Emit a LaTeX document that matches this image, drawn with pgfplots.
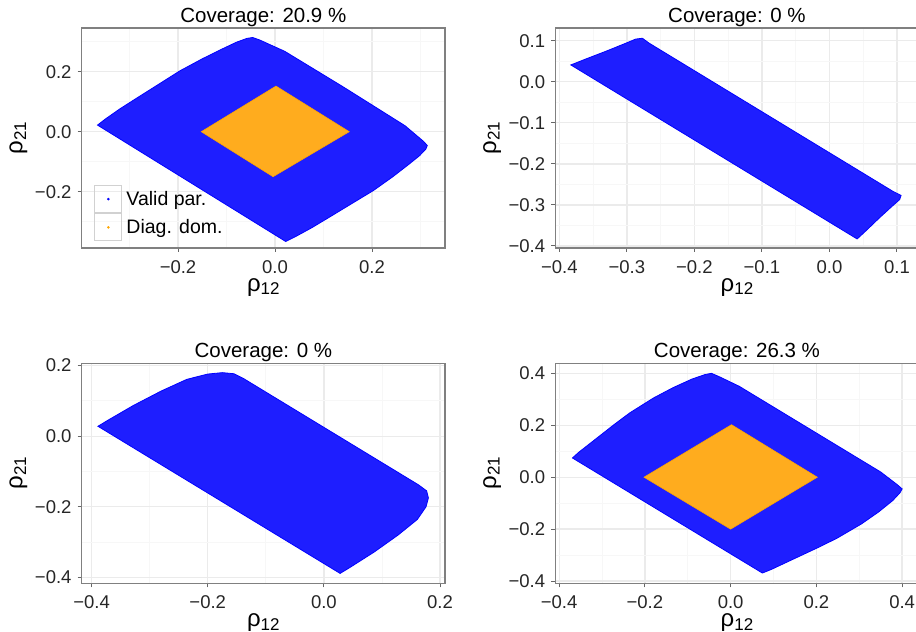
\documentclass[border=0pt]{standalone}
\usepackage{fontspec}
\setmainfont{Liberation Sans}
\usepackage{pgfplots}
\pgfplotsset{compat=1.18}

\definecolor{vblue}{RGB}{0,0,255}
\definecolor{vfill}{RGB}{30,30,255}
\definecolor{dorange}{RGB}{255,165,0}
\definecolor{dfill}{RGB}{255,172,30}
\definecolor{framegray}{gray}{0.5}

\newcommand{\rlab}[1]{{\fontsize{24}{24}\selectfont ρ\raisebox{-0.28ex}{\fontsize{17}{17}\selectfont #1}}}

\pgfplotsset{
  panel/.style={
    scale only axis, width=363.3pt, height=220pt,
    axis line style={framegray, line width=1.3pt},
    grid=both,
    major grid style={black!8, line width=1.3pt},
    minor grid style={black!3, line width=0.8pt},
    minor tick length=0pt, major tick length=4pt,
    tick align=outside, tick pos=left,
    tick style={black!60, line width=1pt},
    tick label style={font=\fontsize{18.5}{18.5}\selectfont, text=black!85},
    xticklabel style={anchor=north, inner sep=0pt, yshift=-8pt},
    yticklabel style={anchor=east, inner sep=0pt, xshift=-6pt},
    title style={at={(0.5,1)}, anchor=base, yshift=-1pt, font=\fontsize{20.5}{20.5}\selectfont},
    xlabel={\rlab{12}}, ylabel={\rlab{21}},
    xlabel style={at={(axis description cs:0.5,-0.197)}, anchor=base},
    ylabel style={at={(axis description cs:-0.163,0.5)}, anchor=base, rotate=0},
  },
}

\begin{document}
\begin{tikzpicture}
\useasboundingbox (0,0) rectangle (916pt,632pt);

% top left
\begin{axis}[panel, at={(81.7pt,384pt)}, anchor=south west,
  xmin=-0.3986, xmax=0.3505, ymin=-0.3877, ymax=0.3457,
  xtick={-0.2,0,0.2}, xticklabels={−0.2,0.0,0.2},
  ytick={-0.2,0,0.2}, yticklabels={−0.2,0.0,0.2},
  minor xtick={-0.3,-0.1,0.1,0.3}, minor ytick={-0.3,-0.1,0.1,0.3},
  title={Coverage: 20.9 \%},
  legend style={at={(0.034,0.029)}, anchor=south west, draw=none, fill=none,
    inner sep=0pt, row sep=0pt, column sep=4pt, cells={anchor=west},
    nodes={inner sep=0pt}, font=\fontsize{19.5}{19.5}\selectfont},
]
\addplot[fill=vfill, draw=vblue, line width=0.8pt, forget plot] coordinates {
  (-0.366,0.022) (-0.35,0.042) (-0.32,0.076) (-0.29,0.107) (-0.24,0.158)
  (-0.196,0.203) (-0.15,0.243) (-0.11,0.275) (-0.08,0.298) (-0.058,0.311)
  (-0.046,0.314) (-0.032,0.306) (0.02,0.268) (0.14,0.15)
  (0.268,0.02) (0.306,-0.032) (0.314,-0.046) (0.311,-0.058) (0.298,-0.08) (0.275,-0.11)
  (0.243,-0.15) (0.203,-0.196) (0.158,-0.24) (0.107,-0.29) (0.076,-0.32)
  (0.042,-0.35) (0.022,-0.366)
} -- cycle;
\addplot[fill=dfill, draw=dorange, line width=0.6pt, forget plot] coordinates {
  (-0.152,0) (0.002,0.152) (0.153,0) (-0.004,-0.150)
} -- cycle;
\addlegendimage{legend image code/.code={
  \draw[black!18, line width=1.2pt] (0pt,-13.5pt) rectangle (27pt,13.5pt);
  \fill[vblue] (13.5pt,0pt) circle (1.1pt);}}
\addlegendentry{Valid par.}
\addlegendimage{legend image code/.code={
  \draw[black!18, line width=1.2pt] (0pt,-13.5pt) rectangle (27pt,13.5pt);
  \fill[dorange] (13.5pt,0pt) circle (1.1pt);}}
\addlegendentry{Diag. dom.}
\end{axis}

% top right
\begin{axis}[panel, at={(555.3pt,384pt)}, anchor=south west,
  xmin=-0.406, xmax=0.132, ymin=-0.405, ymax=0.131,
  xtick={-0.4,-0.3,-0.2,-0.1,0,0.1}, xticklabels={−0.4,−0.3,−0.2,−0.1,0.0,0.1},
  ytick={-0.4,-0.3,-0.2,-0.1,0,0.1}, yticklabels={−0.4,−0.3,−0.2,−0.1,0.0,0.1},
  minor xtick={-0.35,-0.25,-0.15,-0.05,0.05}, minor ytick={-0.35,-0.25,-0.15,-0.05,0.05},
  title={Coverage: 0 \%},
]
\addplot[fill=vfill, draw=vblue, line width=0.8pt] coordinates {
  (-0.383,0.041) (-0.36,0.056) (-0.33,0.075) (-0.30,0.095) (-0.287,0.104)
  (-0.277,0.106) (-0.267,0.094)
  (0.094,-0.267) (0.106,-0.277) (0.104,-0.287) (0.095,-0.30) (0.075,-0.33)
  (0.056,-0.36) (0.041,-0.383)
} -- cycle;
\end{axis}

% bottom left
\begin{axis}[panel, at={(81.7pt,48.7pt)}, anchor=south west,
  xmin=-0.417, xmax=0.2086, ymin=-0.417, ymax=0.2065,
  xtick={-0.4,-0.2,0,0.2}, xticklabels={−0.4,−0.2,0.0,0.2},
  ytick={-0.4,-0.2,0,0.2}, yticklabels={−0.4,−0.2,0.0,0.2},
  minor xtick={-0.3,-0.1,0.1}, minor ytick={-0.3,-0.1,0.1},
  title={Coverage: 0 \%}, title style={yshift=0.5pt},
]
\addplot[fill=vfill, draw=vblue, line width=0.8pt] coordinates {
  (-0.389,0.028) (-0.372,0.045) (-0.328,0.087) (-0.28,0.128) (-0.236,0.161)
  (-0.2,0.176) (-0.175,0.18) (-0.155,0.177) (-0.138,0.163)
  (0.163,-0.138) (0.177,-0.155) (0.18,-0.175) (0.176,-0.2) (0.161,-0.236)
  (0.128,-0.28) (0.087,-0.328) (0.045,-0.372) (0.028,-0.389)
} -- cycle;
\end{axis}

% bottom right
\begin{axis}[panel, at={(555.3pt,48.7pt)}, anchor=south west,
  xmin=-0.409, xmax=0.4384, ymin=-0.4085, ymax=0.4385,
  xtick={-0.4,-0.2,0,0.2,0.4}, xticklabels={−0.4,−0.2,0.0,0.2,0.4},
  ytick={-0.4,-0.2,0,0.2,0.4}, yticklabels={−0.4,−0.2,0.0,0.2,0.4},
  minor xtick={-0.3,-0.1,0.1,0.3}, minor ytick={-0.3,-0.1,0.1,0.3},
  title={Coverage: 26.3 \%}, title style={yshift=0.5pt},
]
\addplot[fill=vfill, draw=vblue, line width=0.8pt] coordinates {
  (-0.369,0.074) (-0.355,0.095) (-0.3125,0.15) (-0.27,0.205) (-0.235,0.248)
  (-0.18,0.305) (-0.134,0.345) (-0.09,0.378) (-0.06,0.395) (-0.045,0.40)
  (-0.028,0.388) (0.02,0.35) (0.18,0.19)
  (0.35,0.02) (0.388,-0.028) (0.40,-0.045) (0.395,-0.06) (0.378,-0.09) (0.345,-0.134)
  (0.305,-0.18) (0.248,-0.235) (0.205,-0.27) (0.15,-0.3125) (0.095,-0.355)
  (0.074,-0.369)
} -- cycle;
\addplot[fill=dfill, draw=dorange, line width=0.6pt] coordinates {
  (-0.202,0) (0.002,0.202) (0.202,0) (0,-0.200)
} -- cycle;
\end{axis}
\end{tikzpicture}
\end{document}
